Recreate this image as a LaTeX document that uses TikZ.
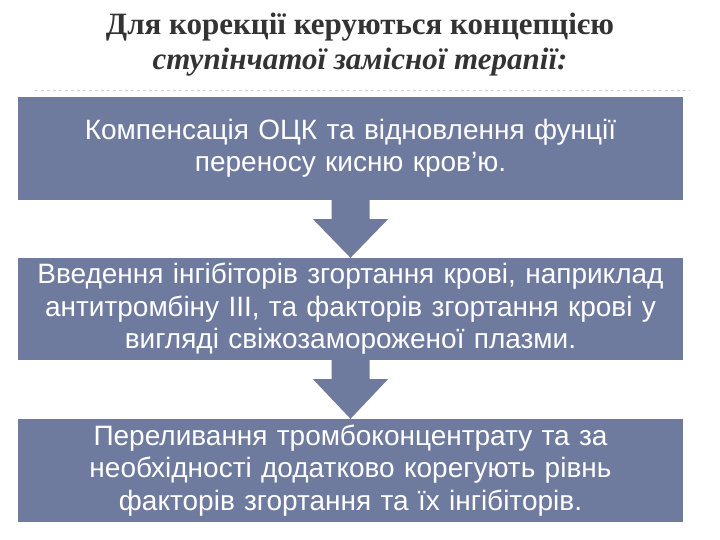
\documentclass[tikz,border=0pt]{standalone}
\usepackage{fontspec}
\setmainfont{Liberation Serif}
\newfontfamily\boxfont{Liberation Sans}
\usetikzlibrary{calc}
\definecolor{slate}{RGB}{111,122,159}
\newcommand{\drawStep}[2]{
  \fill[slate] ($(#1.south)+(-19,0)$) -- ($(#1.south)+(-19,-19)$)
    -- ($(#1.south)+(-37.5,-19)$) -- (#2.north) -- ($(#1.south)+(37.5,-19)$)
    -- ($(#1.south)+(19,-19)$) -- ($(#1.south)+(19,0)$) -- cycle;
}

\begin{document}
\begin{tikzpicture}[x=1pt, y=1pt,
  stepbox/.style={fill=slate, text=white, inner sep=0pt, align=center,
    minimum width=665pt, text width=665pt,
    font=\boxfont\fontsize{28}{32.5}\selectfont}]
  \useasboundingbox (0,0) rectangle (720,-540);
  % Title
  \node[align=center, text=black!80, font=\bfseries\fontsize{31}{35}\selectfont] (title) at (360,-45)
    {Для корекції керуються концепцією\\ \textit{ступінчатої замісної терапії:}};
  \draw[dashed, gray!40] (35,-90) -- (690,-90);
  % Nodes
  \node[stepbox, minimum height=103pt] (comp) at (350.5,-148.5)
    {Компенсація ОЦК та відновлення фунції\\ переносу кисню кров’ю.};
  \node[stepbox, minimum height=102pt] (inhib) at (350.5,-309)
    {Введення інгібіторів згортання крові, наприклад\\ антитромбіну III, та факторів згортання крові у\\ вигляді свіжозамороженої плазми.};
  \node[stepbox, minimum height=103pt] (platelet) at (350.5,-470.5)
    {Переливання тромбоконцентрату та за\\ необхідності додатково корегують рівнь\\ факторів згортання та їх інгібіторів.};
  \drawStep{comp}{inhib}
  \drawStep{inhib}{platelet}
\end{tikzpicture}
\end{document}
